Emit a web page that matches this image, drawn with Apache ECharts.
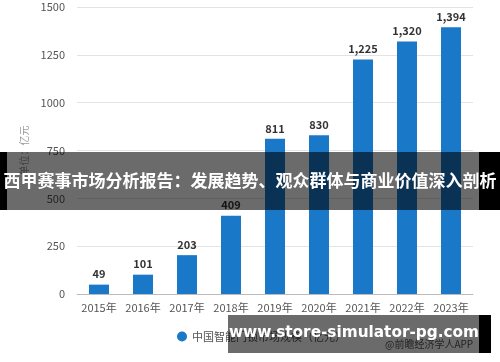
<!DOCTYPE html>
<html><head><meta charset="utf-8">
<script src="https://cdn.jsdelivr.net/npm/echarts@6/dist/echarts.min.js"></script>
<style>html,body{margin:0;padding:0;background:#fff}#c{width:500px;height:362px}</style>
</head><body><div id="c"></div>
<script>
const categories = ['2015年','2016年','2017年','2018年','2019年','2020年','2021年','2022年','2023年'];
const values = [49, 101, 203, 409, 811, 830, 1225, 1320, 1394];
const seriesName = '中国智能门锁市场规模（亿元）';
const yTicks = [0, 250, 500, 750, 1000, 1250, 1500];
const titleText = '西甲赛事市场分析报告：发展趋势、观众群体与商业价值深入剖析';
const urlText = 'www.store-simulator-pg.com';
const sourceText = '@前瞻经济学人APP';
const font = '"Microsoft YaHei","Noto Sans CJK SC",sans-serif';

const chart = echarts.init(document.getElementById('c'));
chart.setOption({
  animation: false,
  textStyle: {fontFamily: font},
  grid: {left: 77, right: 27, top: 7, bottom: 68},
  xAxis: {
    type: 'category', data: categories,
    axisLine: {lineStyle: {color: '#bbb'}},
    axisTick: {show: false},
    axisLabel: {color: '#555', fontSize: 11, margin: 8, interval: 0}
  },
  yAxis: {
    type: 'value', min: yTicks[0], max: yTicks[yTicks.length-1], interval: 250,
    name: '单位：亿元', nameLocation: 'middle', nameRotate: 90, nameGap: 47,
    nameTextStyle: {color: '#999', fontSize: 10},
    axisLine: {show: false}, axisTick: {show: false},
    axisLabel: {color: '#555', fontSize: 11, margin: 12, formatter: v => String(v)},
    splitLine: {lineStyle: {color: '#e3e3e3'}}
  },
  legend: {
    left: 172, top: 326, icon: 'circle', itemWidth: 10, itemHeight: 10, itemGap: 6,
    textStyle: {color: '#555', fontSize: 11}, data: [seriesName]
  },
  series: [{
    name: seriesName, type: 'bar', data: values, barWidth: 20,
    itemStyle: {color: '#1a78c8'},
    label: {show: true, position: 'top', color: '#333', fontWeight: 'bold', fontSize: 11,
      formatter: p => p.value.toString().replace(/\B(?=(\d{3})+(?!\d))/g, ',')}
  }],
  graphic: [
    {type: 'text', left: 385, top: 339, z: 50, style: {text: sourceText, fill: '#555', fontSize: 10, fontFamily: font}},
    {type: 'rect', shape: {x: 0, y: 152, width: 7, height: 58}, style: {fill: '#000'}, z: 100},
    {type: 'rect', shape: {x: 7, y: 152, width: 472, height: 58}, style: {fill: 'rgba(0,0,0,0.58)'}, z: 100},
    {type: 'rect', shape: {x: 479, y: 152, width: 21, height: 58}, style: {fill: '#000'}, z: 100},
    {type: 'text', x: 250, y: 181, z: 101, style: {text: titleText, fill: '#fff', fontSize: 17, fontWeight: 'bold', fontFamily: font, textAlign: 'center', textVerticalAlign: 'middle'}},
    {type: 'rect', shape: {x: 228, y: 315, width: 251, height: 38}, style: {fill: 'rgba(0,0,0,0.58)'}, z: 100},
    {type: 'rect', shape: {x: 479, y: 315, width: 12, height: 38}, style: {fill: '#000'}, z: 100},
    {type: 'text', x: 354, y: 333, z: 101, style: {text: urlText, fill: '#fff', fontSize: 15.3, fontWeight: 'bold', fontFamily: '"DejaVu Sans",sans-serif', textAlign: 'center', textVerticalAlign: 'middle'}}
  ]
});
</script></body></html>
